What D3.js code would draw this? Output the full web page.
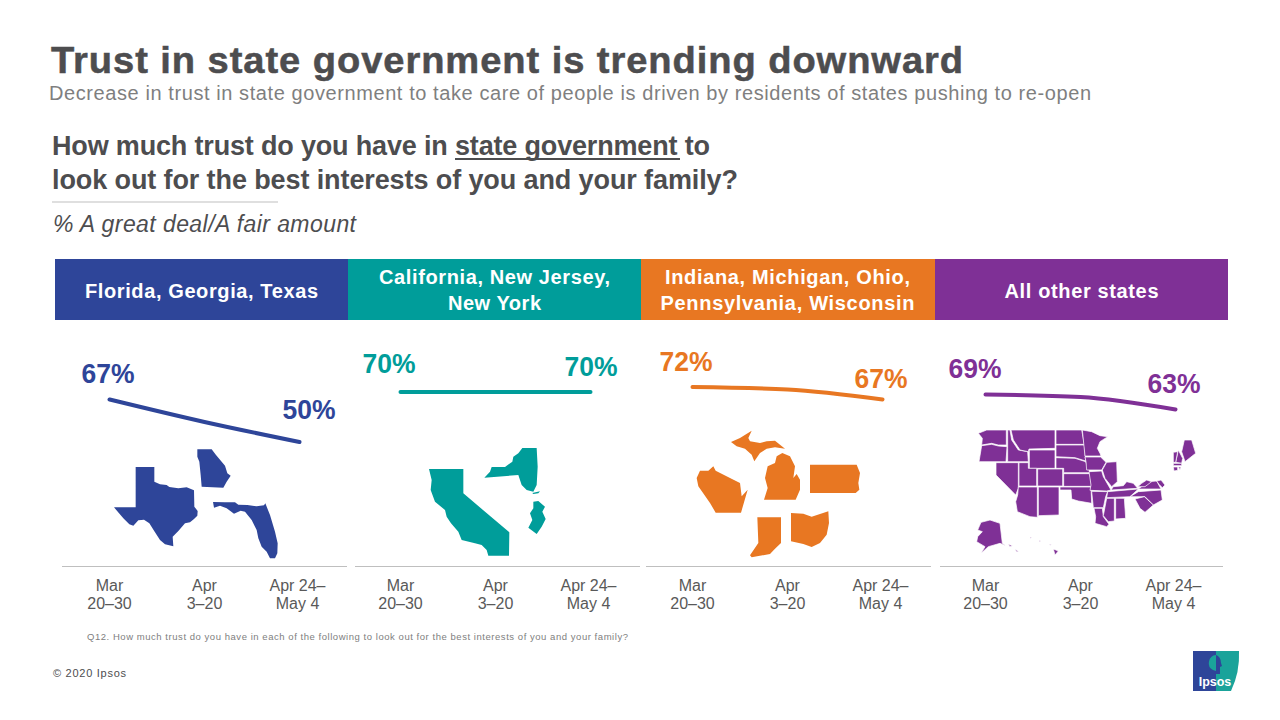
<!DOCTYPE html>
<html><head><meta charset="utf-8">
<script src="https://cdn.jsdelivr.net/npm/d3@7"></script>
<style>
html,body{margin:0;padding:0;background:#fff;overflow:hidden}
text{font-family:"Liberation Sans",Arial,sans-serif}
</style></head><body>
<svg id="c" width="1280" height="720" xmlns="http://www.w3.org/2000/svg"></svg>
<script>
// ---- data ----
const periods = [["Mar","20–30"],["Apr","3–20"],["Apr 24–","May 4"]];
const groupLines = [["Florida, Georgia, Texas"],["California, New Jersey,","New York"],["Indiana, Michigan, Ohio,","Pennsylvania, Wisconsin"],["All other states"]];
const floridaValues = [67,58,50];
const californiaValues = [70,70,70];
const indianaValues = [72,71,67];
const otherValues = [69,68,63];
const colors = ["#2e4599","#009d9a","#e87722","#7f3096"];

// ---- layout ----
const svg = d3.select("#c");
const ink = "#4d4d4f";
const panelLefts = [55,348,641,935];
const panelW = 293;
const lineX0 = [109.5,400.5,692.5,985.5];
const lineSpan = 190;
const yScale = d3.scaleLinear().domain([50,72]).range([442,387]);
const series = [floridaValues,californiaValues,indianaValues,otherValues];
const axisSpans = [[62,347],[355,640],[646,931],[940,1223]];
const bannerWidths = [[233],[231,93],[245,254],[154]];
const labelPos = [
  [[108,383],[309,419]],
  [[389,373],[591,376]],
  [[686,371],[881,388]],
  [[975,378],[1174,393]]
];

function fitText(x,y,str,size,len,opts={}){
  const t = svg.append("text").attr("x",x).attr("y",y).attr("font-size",size)
    .attr("fill",opts.fill||ink).text(str);
  if(opts.weight) t.attr("font-weight",opts.weight);
  if(opts.style) t.attr("font-style",opts.style);
  if(opts.stroke) t.attr("stroke",opts.fill||ink).attr("stroke-width",opts.stroke);
  if(opts.spacing) t.attr("letter-spacing",opts.spacing);
  if(len){ t.attr("textLength",len).attr("lengthAdjust",opts.adjust||"spacing"); }
  return t;
}

fitText(51,73,"Trust in state government is trending downward",36,913,{weight:"bold",adjust:"spacingAndGlyphs",stroke:0.5,spacing:0.9});
fitText(49,100,"Decrease in trust in state government  to take care of people is driven by residents of states pushing  to re-open",20,1042,{fill:"#7f7f7f"});
fitText(52,155,"How much trust do you have in state government to",27,658,{weight:"bold"});
svg.append("line").attr("x1",455).attr("x2",680).attr("y1",159).attr("y2",159).attr("stroke",ink).attr("stroke-width",2);
fitText(52,189,"look out for the best interests of you and your family?",27,686,{weight:"bold"});
svg.append("line").attr("x1",52).attr("x2",278).attr("y1",202).attr("y2",202).attr("stroke","#bfbfbf").attr("stroke-width",1);
fitText(53,232,"% A great deal/A fair amount",23,303,{style:"italic"});

// banners
groupLines.forEach((ls,i)=>{
  svg.append("rect").attr("x",panelLefts[i]).attr("y",259).attr("width",panelW+(i==2?1:0)).attr("height",61).attr("fill",colors[i]);
  const cx = panelLefts[i]+panelW/2;
  ls.forEach((l,j)=>{
    const y = ls.length==1 ? 298 : 284+j*26;
    svg.append("text").attr("x",cx).attr("y",y).attr("text-anchor","middle")
      .attr("font-size",20).attr("font-weight","bold").attr("fill","#fff")
      .attr("textLength",bannerWidths[i][j]).attr("lengthAdjust","spacing").text(l);
  });
});

// line panels
series.forEach((vals,i)=>{
  const x = d3.scalePoint().domain(d3.range(3)).range([lineX0[i],lineX0[i]+lineSpan]);
  const line = d3.line().x((d,k)=>x(k)).y(d=>yScale(d)).curve(d3.curveMonotoneX);
  svg.append("path").attr("d",line(vals)).attr("fill","none").attr("stroke",colors[i])
    .attr("stroke-width",4).attr("stroke-linecap","round");
  [0,2].forEach((k,n)=>{
    svg.append("text").attr("x",labelPos[i][n][0]).attr("y",labelPos[i][n][1]).attr("text-anchor","middle")
      .attr("font-size",28).attr("font-weight","bold").attr("fill",colors[i]).attr("textLength",53).attr("lengthAdjust","spacingAndGlyphs").text(vals[k]+"%");
  });
  svg.append("line").attr("x1",axisSpans[i][0]).attr("x2",axisSpans[i][1]).attr("y1",566.5).attr("y2",566.5).attr("stroke","#bfbfbf").attr("stroke-width",1);
  periods.forEach((p,k)=>{
    const off = k==2?-2:(k==1?0:0);
    p.forEach((s,m)=>{
      svg.append("text").attr("x",x(k)+off).attr("y",591+m*18).attr("text-anchor","middle")
        .attr("font-size",16).attr("fill","#595959").text(s);
    });
  });
});

// state outlines, traced in 3x crop units from each crop's origin
function drawStates(list,ox,oy,color,stroke){
  const sx = d3.scaleLinear().domain([0,3]).range([ox,ox+1]);
  const sy = d3.scaleLinear().domain([0,3]).range([oy,oy+1]);
  const ln = d3.line().x(d=>sx(d[0])).y(d=>sy(d[1])).curve(d3.curveLinearClosed);
  list.forEach(p=>svg.append("path").attr("d",ln(p)).attr("fill",color)
    .attr("stroke",stroke||"none").attr("stroke-width",stroke?0.7:0).attr("stroke-linejoin","round"));
}
const flGaTx = [
 [[77,66],[133,66],[133,110],[150,118],[170,120],[178,126],[205,130],[230,127],[252,136],[253,185],[263,198],[262,212],[252,222],[240,232],[225,235],[205,258],[188,275],[190,304],[165,298],[150,285],[135,262],[118,235],[102,224],[85,226],[70,242],[58,238],[40,220],[12,187],[77,187]],
 [[262,13],[305,13],[318,30],[345,62],[352,85],[362,92],[350,110],[340,128],[275,125],[272,90],[268,50],[262,35]],
 [[309,171],[345,172],[375,172],[385,179],[412,180],[440,184],[462,181],[466,175],[480,210],[495,260],[503,295],[502,325],[495,340],[480,340],[470,320],[455,305],[445,280],[440,255],[425,225],[405,200],[392,197],[372,206],[350,190],[330,182],[312,188]]
];
const caNjNy = [
 [[12,72],[115,72],[115,145],[253,262],[252,332],[190,332],[185,315],[170,300],[150,295],[110,285],[100,260],[78,235],[65,215],[60,195],[30,170],[17,135],[20,105]],
 [[292,9],[335,9],[338,65],[335,120],[325,140],[305,135],[290,120],[280,90],[178,98],[195,80],[200,66],[240,66],[262,50],[265,35],[280,25]],
 [[322,144],[345,139],[340,145],[325,147]],
 [[325,170],[340,168],[360,185],[352,200],[362,222],[350,245],[335,267],[310,248],[322,225],[315,205],[325,190]]
];
const midwest = [
 [[170,8],[160,30],[165,40],[195,45],[215,40],[240,38],[255,50],[270,62],[240,58],[215,62],[195,75],[178,100],[170,80],[150,62],[125,55],[108,42],[135,30]],
 [[262,75],[285,85],[300,115],[295,150],[305,138],[315,155],[315,185],[302,215],[207,215],[218,180],[210,150],[218,115],[240,105],[245,85]],
 [[55,115],[62,128],[105,150],[135,165],[140,205],[158,185],[148,220],[138,254],[62,254],[45,225],[10,175],[5,150],[15,128],[40,128]],
 [[345,110],[485,110],[495,135],[490,165],[493,185],[482,195],[345,195]],
 [[187,268],[258,268],[258,345],[240,362],[225,378],[170,388],[165,382],[190,345]],
 [[288,255],[325,257],[350,266],[400,250],[402,285],[395,320],[375,345],[350,357],[325,348],[288,340]]
];
const others = [
 [[10,25],[35,15],[94,15],[94,60],[70,60],[50,55],[20,60],[22,40]],
 [[20,62],[50,58],[70,63],[96,65],[93,110],[12,110]],
 [[98,15],[105,15],[110,45],[130,75],[158,80],[160,110],[98,110],[98,70]],
 [[108,15],[240,15],[240,70],[162,72],[160,80],[135,75],[115,45]],
 [[163,75],[240,75],[240,130],[163,130]],
 [[132,113],[160,113],[160,130],[185,130],[185,183],[132,183]],
 [[63,113],[130,113],[130,190],[122,210],[63,150]],
 [[188,132],[263,132],[263,183],[188,183]],
 [[130,186],[187,186],[187,277],[165,275],[127,260],[122,230],[128,210]],
 [[190,186],[252,186],[252,270],[190,272]],
 [[243,15],[320,15],[328,58],[243,58]],
 [[243,60],[328,60],[332,108],[300,98],[243,95]],
 [[243,98],[300,100],[332,110],[345,143],[266,143],[266,130],[243,130]],
 [[266,146],[345,146],[350,184],[266,184]],
 [[255,186],[348,186],[350,235],[310,228],[290,222],[288,195],[255,195]],
 [[322,15],[350,20],[375,32],[398,35],[375,50],[367,70],[375,85],[378,93],[330,93]],
 [[330,96],[377,96],[393,112],[380,135],[335,135],[333,110]],
 [[395,112],[425,110],[427,170],[410,185],[390,160],[382,135]],
 [[342,140],[380,138],[385,155],[408,195],[395,198],[345,196],[348,180]],
 [[350,199],[398,200],[392,215],[385,248],[355,248]],
 [[357,250],[382,250],[385,275],[402,298],[395,305],[360,295],[362,275]],
 [[395,220],[418,220],[418,288],[400,290],[385,272]],
 [[422,220],[448,220],[452,280],[422,282]],
 [[398,200],[490,192],[465,215],[395,218]],
 [[408,195],[415,185],[445,182],[455,170],[475,175],[488,190]],
 [[490,192],[520,170],[545,168],[558,192]],
 [[488,185],[500,175],[515,165],[530,170],[510,185]],
 [[465,215],[490,200],[558,195],[562,225],[535,240],[510,215]],
 [[480,222],[508,215],[535,240],[510,262],[495,250]],
 [[545,168],[558,165],[570,180],[562,188],[552,178]],
 [[628,45],[650,45],[662,85],[630,110],[620,80]],
 [[610,75],[623,100],[620,115],[602,112]],
 [[595,82],[608,80],[602,112],[595,112]],
 [[595,115],[620,115],[620,122],[595,122]],
 [[595,126],[608,126],[608,136],[597,138]],
 [[610,126],[618,126],[615,134]],
 [[18,292],[45,285],[75,295],[82,355],[100,368],[92,362],[75,355],[40,365],[18,385],[30,365],[5,350],[8,335],[22,320],[8,315]],
 [[100,358],[112,362],[105,365]],
 [[120,373],[132,380],[125,380]],
 [[235,372],[250,378],[240,390]],
 [[165,336],[170,338],[165,340]],
 [[192,346],[197,348],[193,350]],
 [[224,357],[229,359],[225,361]]
];
drawStates(flGaTx,110,445,colors[0]);
drawStates(caNjNy,425,445,colors[1]);
drawStates(midwest,695,428,colors[2]);
drawStates(others,975,425,colors[3],"#fff");

// footers
fitText(87,640,"Q12. How much trust do you have in each of the following to look out for the best interests of you and your family?",9.5,541,{fill:"#808080"});
fitText(53,677,"© 2020 Ipsos",11,73,{fill:ink});

// logo
const logo = svg.append("g");
logo.append("path").attr("d","M1193 651H1216V691H1193Z").attr("fill","#2e4599");
logo.append("path").attr("d","M1216 651H1239Q1240 672 1231 691H1216Z").attr("fill","#1aa39a");
logo.append("path").attr("d","M1216 655a8 8 0 0 0 -3 15l3 1Z").attr("fill","#1aa39a");
logo.append("path").attr("d","M1216 655a6 8 0 0 1 5 8l1 3-2 1 0 7h-4Z").attr("fill","#2e4599");
logo.append("text").attr("x",1215).attr("y",686).attr("text-anchor","middle").attr("font-size",12.5).attr("font-weight","bold").attr("fill","#fff").text("Ipsos");
</script>
</body></html>
